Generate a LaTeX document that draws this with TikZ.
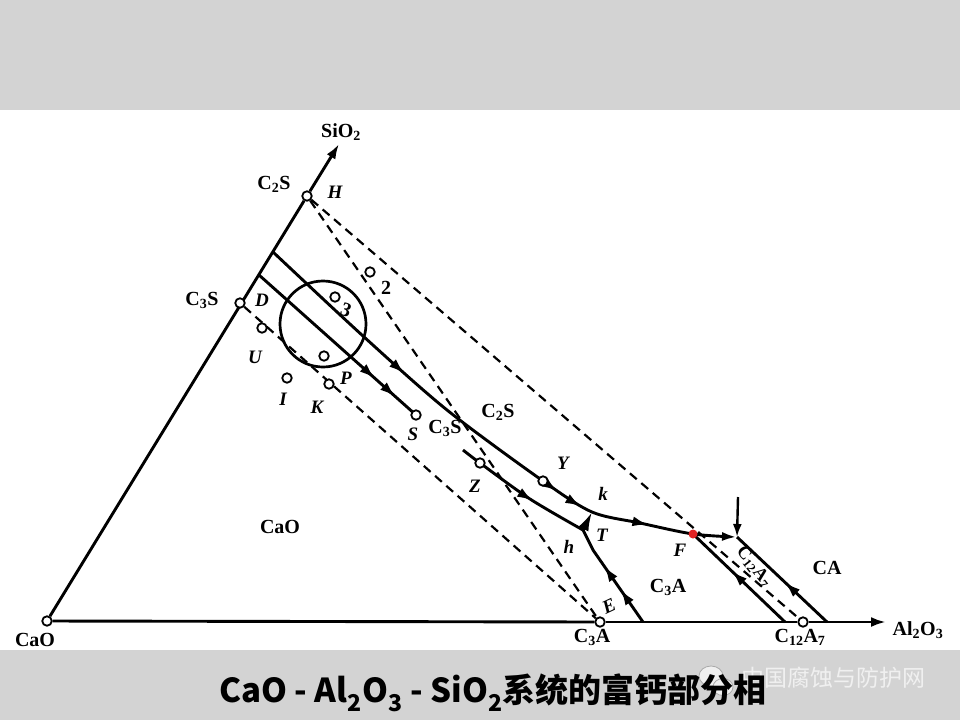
\documentclass[tikz,border=0pt]{standalone}
\usepackage{fontspec}
\setmainfont{Liberation Serif}
\newfontfamily\cjk{Noto Sans CJK SC}
\usetikzlibrary{arrows.meta,decorations.markings}
\definecolor{band}{RGB}{211,211,211}
\definecolor{wm}{RGB}{240,240,240}
\definecolor{wmline}{RGB}{170,170,170}
\definecolor{fred}{RGB}{225,35,35}
\pgfdeclarelayer{back}
\pgfdeclarelayer{bg}
\pgfsetlayers{back,bg,main}
\tikzset{
  pt/.style={circle, draw, fill=white, line width=1.8pt, inner sep=0pt, minimum size=9.5pt},
  curve/.style={line width=2.9pt, line join=round},
  axis/.style={line width=2.9pt},
  dline/.style={line width=2.2pt, dash pattern=on 9pt off 6pt},
  cmp/.style={font=\fontsize{20}{22}\selectfont\bfseries, inner sep=1pt},
  lett/.style={font=\fontsize{19}{21}\selectfont\bfseries\itshape, inner sep=1pt},
  midarr/.style={postaction={decorate, decoration={markings,
      mark=at position #1 with {\arrow{Latex[length=16pt,width=10pt]}}}}},
}
\begin{document}
\begin{tikzpicture}[x=1pt,y=-1pt]
\useasboundingbox (0,0) rectangle (960,720);
\begin{pgfonlayer}{back}
  \fill[band] (0,0) rectangle (960,110);
  \fill[band] (0,650) rectangle (960,720);
\end{pgfonlayer}

% coordinates
\coordinate (SiTip) at (339,144);
\coordinate (AlTip) at (886,622);
\coordinate (a1) at (273,252);
\coordinate (a2) at (259,275);
\coordinate (kk) at (592,512);
\coordinate (T) at (583,530);
\coordinate (F) at (693,534);
\coordinate (Q) at (737,537);
\coordinate (z0) at (463,450);
\coordinate (e0) at (643,622);
\coordinate (e1) at (593,550);
\coordinate (f0) at (785,622);
\coordinate (q0) at (827,622);
\coordinate (v0) at (738,497);

% point circles
\node[pt] (CaO) at (47,621) {};
\node[pt] (H) at (307,196) {};
\node[pt] (C3S) at (240,303) {};
\node[pt] (C3A) at (600,622) {};
\node[pt] (C12A7) at (803,622) {};
\node[pt] (U) at (262,328) {};
\node[pt] (I) at (287,378) {};
\node[pt] (K) at (329,384) {};
\node[pt] (p2) at (370,272) {};
\node[pt] (p3) at (335,297) {};
\node[pt] (p4) at (324,356) {};
\node[pt] (S) at (416,415) {};
\node[pt] (Z) at (480,463) {};
\node[pt] (Y) at (543,481) {};

\node[draw, circle, line width=2.7pt, minimum size=86pt, inner sep=0pt] (ring) at (323,324) {};
\fill[fred] (F) circle[radius=4.5pt];

\begin{pgfonlayer}{bg}
  % axes
  \draw[axis] (CaO) -- (H);
  \draw[axis, -{Latex[length=15pt,width=10pt]}] (H) -- (SiTip);
  \draw[axis] (CaO) -- (C3A);
  \draw[axis] (C3A) -- (C12A7);
  \draw[axis, -{Latex[length=15pt,width=10pt]}] (C12A7) -- (AlTip);
  % dashed joins
  \draw[dline] (H) -- (C12A7);
  \draw[dline] (H) -- (C3A);
  \draw[dline] (C3S) -- (C3A);
  % boundary curves
  \draw[curve, midarr=0.32, midarr=0.665, midarr=0.715, midarr=0.84,
        -{Latex[length=15pt,width=9pt]}]
    plot[smooth, tension=0.5] coordinates {(a1) (363,336) (447,410) (Y) (kk) (640,523) (F) (Q)};
  \draw[curve, midarr=0.74, midarr=0.87] (a2) -- (S.center);
  \draw[curve, midarr=0.6] plot[smooth, tension=0.5] coordinates {(z0) (Z) (530,499) (T)};
  \draw[curve, -{Latex[length=19pt,width=11pt]}] (T) -- (kk);
  \draw[curve, midarr=0.36, midarr=0.62] (e0) -- (e1) -- (T);
  \draw[curve, midarr=0.58] (f0) -- (F);
  \draw[curve, midarr=0.47] (q0) -- (Q);
  \draw[line width=2.4pt, -{Latex[length=13pt,width=9pt]}] (v0) -- (Q);
\end{pgfonlayer}

% labels
\node[cmp] (lSiO2) at (341,132) {SiO\textsubscript{2}};
\node[cmp] (lC2Sa) at (274,184) {C\textsubscript{2}S};
\node[lett] (lH) at (335,192) {H};
\node[cmp] (lC3Sa) at (202,300) {C\textsubscript{3}S};
\node[lett] (lD) at (262,300) {D};
\node[cmp, rotate=-20] (l3) at (346,310) {3};
\node[cmp] (l2) at (386,288) {2};
\node[lett] (lU) at (255,357) {U};
\node[lett] (lI) at (283,399) {I};
\node[lett] (lK) at (317,407) {K};
\node[lett] (lP) at (346,378) {P};
\node[lett] (lS) at (413,434) {S};
\node[cmp] (lC3Sb) at (445,428) {C\textsubscript{3}S};
\node[cmp] (lC2Sb) at (498,412) {C\textsubscript{2}S};
\node[lett] (lZ) at (475,486) {Z};
\node[lett] (lY) at (563,463) {Y};
\node[lett] (lk) at (603,494) {k};
\node[lett] (lT) at (602,535) {T};
\node[lett] (lh) at (569,547) {h};
\node[lett, rotate=25] (lE) at (609,606) {E};
\node[lett] (lF) at (680,550) {F};
\node[cmp] (lC3Ab) at (668,587) {C\textsubscript{3}A};
\node[font=\fontsize{18}{20}\selectfont\bfseries, rotate=-52, inner sep=0pt] (lC12b) at (754,567) {C\textsubscript{12}A\textsubscript{7}};
\node[cmp] (lCA) at (827,568) {CA};
\node[cmp] (lCaOb) at (280,527) {CaO};
\node[cmp] (lCaOa) at (35,640) {CaO};
\node[cmp] (lC3A) at (592,637) {C\textsubscript{3}A};
\node[cmp] (lC12) at (800,637) {C\textsubscript{12}A\textsubscript{7}};
\node[cmp] (lAl) at (918,630) {Al\textsubscript{2}O\textsubscript{3}};

% watermark
\draw[wmline, fill=wm, line width=0.8pt] (711,676) ellipse [x radius=12pt, y radius=10pt];
\draw[wmline, fill=wm, line width=0.8pt] (723,687) ellipse [x radius=10pt, y radius=8.5pt];
\node[font=\cjk\fontsize{23}{25}\selectfont, text=wm] (wmark) at (833,678) {中国腐蚀与防护网};

% title
\node[font=\cjk\bfseries\fontsize{33}{36}\selectfont] (title) at (493,693)
  {CaO - Al\textsubscript{2}O\textsubscript{3} - SiO\textsubscript{2}系统的富钙部分相};
\end{tikzpicture}
\end{document}
